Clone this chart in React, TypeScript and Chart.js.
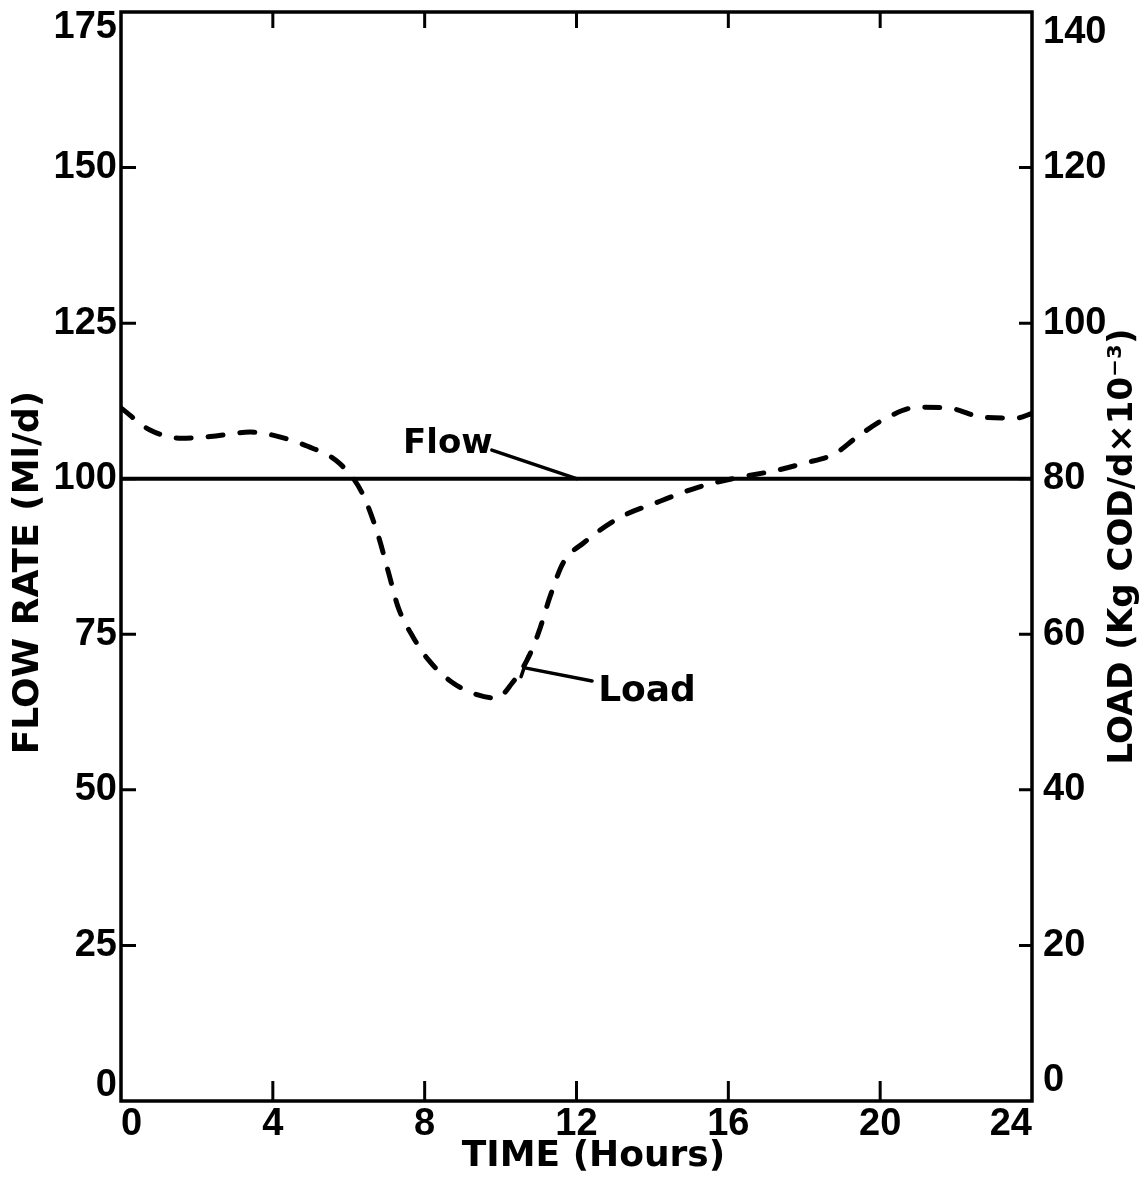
import React, { useEffect, useRef } from 'react';
import { Chart, registerables } from 'chart.js';

Chart.register(...registerables);

// ---- data ----
const xTickLabels = ['0', '4', '8', '12', '16', '20', '24'];
const flowTickLabels = ['0', '25', '50', '75', '100', '125', '150', '175'];
const loadTickLabels = ['0', '20', '40', '60', '80', '100', '120', '140'];

const flowHours = [0, 24];
const flowValues = [100, 100];

const loadHours = [0, 0.75, 1.6, 2.5, 3.4, 4.0, 4.9, 5.75, 6.35, 6.75, 7.05, 7.3, 7.7, 8.1, 8.7, 9.4, 9.9, 10.3, 10.7, 11.0, 11.3, 11.65, 12.2, 13.1, 14.2, 15.2, 16.3, 17.2, 18.0, 18.8, 19.4, 20.2, 21.0, 21.9, 22.7, 23.6, 24];
const loadValues = [89.1, 86.3, 85.2, 85.5, 86.0, 85.6, 84.2, 82.0, 78.2, 73.1, 67.9, 63.5, 59.6, 56.7, 53.9, 52.2, 51.8, 53.7, 56.7, 60.2, 64.8, 69.2, 71.8, 74.9, 77.1, 78.9, 80.2, 81.0, 82.0, 83.2, 85.4, 87.9, 89.2, 89.0, 87.9, 87.8, 88.4];

const xTitle = 'TIME (Hours)';
const leftTitle = 'FLOW RATE (Ml/d)';
const rightTitle = 'LOAD (Kg COD/d\u00d710\u207b\u00b3)';

// ---- styling / annotation placement (data coords of the left axis) ----
const INK = '#000';
const TICK_FONT = 'Liberation Sans';
const TITLE_FONT = 'DejaVu Sans';
const flowNote = { text: 'Flow', x: 7.43, y: 104.1, leader: [[9.77, 104.6], [12.0, 100]] };
const loadNote = { text: 'Load', x: 12.57, y: 64.2, leader: [[10.64, 69.6], [12.41, 67.5]], bar: [[10.72, 71.4], [10.54, 68.2]] };

const noPad = (s: any) => {
  s.paddingTop = 0;
  s.paddingBottom = 0;
  s.paddingLeft = 0;
  s.paddingRight = 0;
};

export default function App() {
  const ref = useRef<HTMLCanvasElement>(null);

  useEffect(() => {
    const canvas = ref.current;
    if (!canvas) return;

    const decorations = {
      id: 'decorations',
      afterDraw(chart: any) {
        const { ctx, chartArea: a, scales } = chart;
        const sx = scales.x, sy = scales.y, sy1 = scales.y1;
        ctx.save();
        ctx.strokeStyle = INK;
        ctx.fillStyle = INK;

        // frame
        ctx.lineWidth = 3.5;
        ctx.lineCap = 'butt';
        ctx.strokeRect(a.left, a.top, a.right - a.left, a.bottom - a.top);

        // inward tick marks
        ctx.lineWidth = 3;
        ctx.beginPath();
        sy.ticks.forEach((t: any) => {
          if (t.value > sy.min && t.value < sy.max) {
            const p = sy.getPixelForValue(t.value);
            ctx.moveTo(a.left, p);
            ctx.lineTo(a.left + 15, p);
          }
        });
        sy1.ticks.forEach((t: any) => {
          if (t.value > sy1.min && t.value < sy1.max) {
            const p = sy1.getPixelForValue(t.value);
            ctx.moveTo(a.right, p);
            ctx.lineTo(a.right - 13, p);
          }
        });
        sx.ticks.forEach((t: any) => {
          if (t.value > sx.min && t.value < sx.max) {
            const p = sx.getPixelForValue(t.value);
            ctx.moveTo(p, a.bottom);
            ctx.lineTo(p, a.bottom - 20);
            ctx.moveTo(p, a.top);
            ctx.lineTo(p, a.top + 16);
          }
        });
        ctx.stroke();

        // annotations
        const P = (h: number, v: number) => [sx.getPixelForValue(h), sy.getPixelForValue(v)];
        ctx.lineWidth = 3.5;
        ctx.lineCap = 'round';
        const seg = (pts: number[][]) => {
          const [x0, y0] = P(pts[0][0], pts[0][1]);
          const [x1, y1] = P(pts[1][0], pts[1][1]);
          ctx.beginPath();
          ctx.moveTo(x0, y0);
          ctx.lineTo(x1, y1);
          ctx.stroke();
        };
        seg(flowNote.leader);
        seg(loadNote.leader);
        seg(loadNote.bar);

        ctx.textBaseline = 'alphabetic';
        ctx.textAlign = 'left';
        ctx.font = `bold 34px "${TITLE_FONT}"`;
        let [tx, ty] = P(flowNote.x, flowNote.y);
        ctx.fillText(flowNote.text, tx, ty);
        ctx.font = `bold 36px "${TITLE_FONT}"`;
        [tx, ty] = P(loadNote.x, loadNote.y);
        ctx.fillText(loadNote.text, tx, ty);

        // axis titles
        ctx.textAlign = 'center';
        ctx.textBaseline = 'middle';
        ctx.font = `bold 36px "${TITLE_FONT}"`;
        ctx.fillText(xTitle, (a.left + a.right) / 2 + 17, a.bottom + 56);

        ctx.save();
        ctx.translate(29, (a.top + a.bottom) / 2 + 16);
        ctx.rotate(-Math.PI / 2);
        ctx.fillText(leftTitle, 0, 0);
        ctx.restore();

        ctx.save();
        ctx.font = `bold 34px "${TITLE_FONT}"`;
        ctx.translate(a.right + 91, (a.top + a.bottom) / 2 - 10);
        ctx.rotate(-Math.PI / 2);
        ctx.fillText(rightTitle, 0, 0);
        ctx.restore();

        ctx.restore();
      },
    };

    const tickFont = { family: TICK_FONT, size: 38, weight: 'bold' as const };

    const chart = new Chart(canvas, {
      type: 'line',
      data: {
        datasets: [
          {
            label: 'Flow',
            data: flowHours.map((h, i) => ({ x: h, y: flowValues[i] })),
            yAxisID: 'y',
            borderColor: INK,
            borderWidth: 4,
            pointRadius: 0,
            fill: false,
          },
          {
            label: 'Load',
            data: loadHours.map((h, i) => ({ x: h, y: loadValues[i] })),
            yAxisID: 'y1',
            borderColor: INK,
            borderWidth: 5,
            borderDash: [15, 17],
            borderCapStyle: 'round',
            cubicInterpolationMode: 'monotone',
            pointRadius: 0,
            fill: false,
          },
        ],
      },
      options: {
        responsive: false,
        animation: false,
        devicePixelRatio: 1,
        layout: { padding: { top: 12, left: 0, right: 0, bottom: 0 } },
        plugins: { legend: { display: false }, tooltip: { enabled: false } },
        scales: {
          x: {
            type: 'linear',
            position: 'bottom',
            min: 0,
            max: 24,
            grid: { display: false, drawTicks: false },
            border: { display: false },
            ticks: {
              stepSize: 4,
              align: 'inner',
              maxRotation: 0,
              autoSkip: false,
              padding: 1,
              color: INK,
              font: tickFont,
              callback: (_v: any, i: number) => xTickLabels[i],
            },
            afterFit: (s: any) => { s.height = 81; noPad(s); },
          },
          y: {
            type: 'linear',
            position: 'left',
            min: 0,
            max: 175,
            grid: { display: false, drawTicks: false },
            border: { display: false },
            ticks: {
              stepSize: 25,
              autoSkip: false,
              padding: 4,
              color: INK,
              font: { ...tickFont, lineHeight: 0.8 },
              callback: (_v: any, i: number) => {
                const t = flowTickLabels[i];
                if (i === 0) return [t, ''];
                if (i === flowTickLabels.length - 1) return ['', t];
                return t;
              },
            },
            afterFit: (s: any) => { s.width = 121; noPad(s); },
          },
          y1: {
            type: 'linear',
            position: 'right',
            min: 0,
            max: 140,
            grid: { display: false, drawTicks: false },
            border: { display: false },
            ticks: {
              stepSize: 20,
              autoSkip: false,
              padding: 11,
              color: INK,
              font: { ...tickFont, lineHeight: 1.1 },
              callback: (_v: any, i: number) => {
                const t = loadTickLabels[i];
                if (i === 0) return [t, ''];
                if (i === loadTickLabels.length - 1) return ['', t];
                return t;
              },
            },
            afterFit: (s: any) => { s.width = 115; noPad(s); },
          },
        },
      },
      plugins: [decorations],
    } as any);

    return () => chart.destroy();
  }, []);

  return (
    <div style={{ position: 'absolute', left: 0, top: 0, width: 1147, height: 1182, background: '#fff' }}>
      <canvas ref={ref} width={1147} height={1182} style={{ display: 'block' }} />
    </div>
  );
}
